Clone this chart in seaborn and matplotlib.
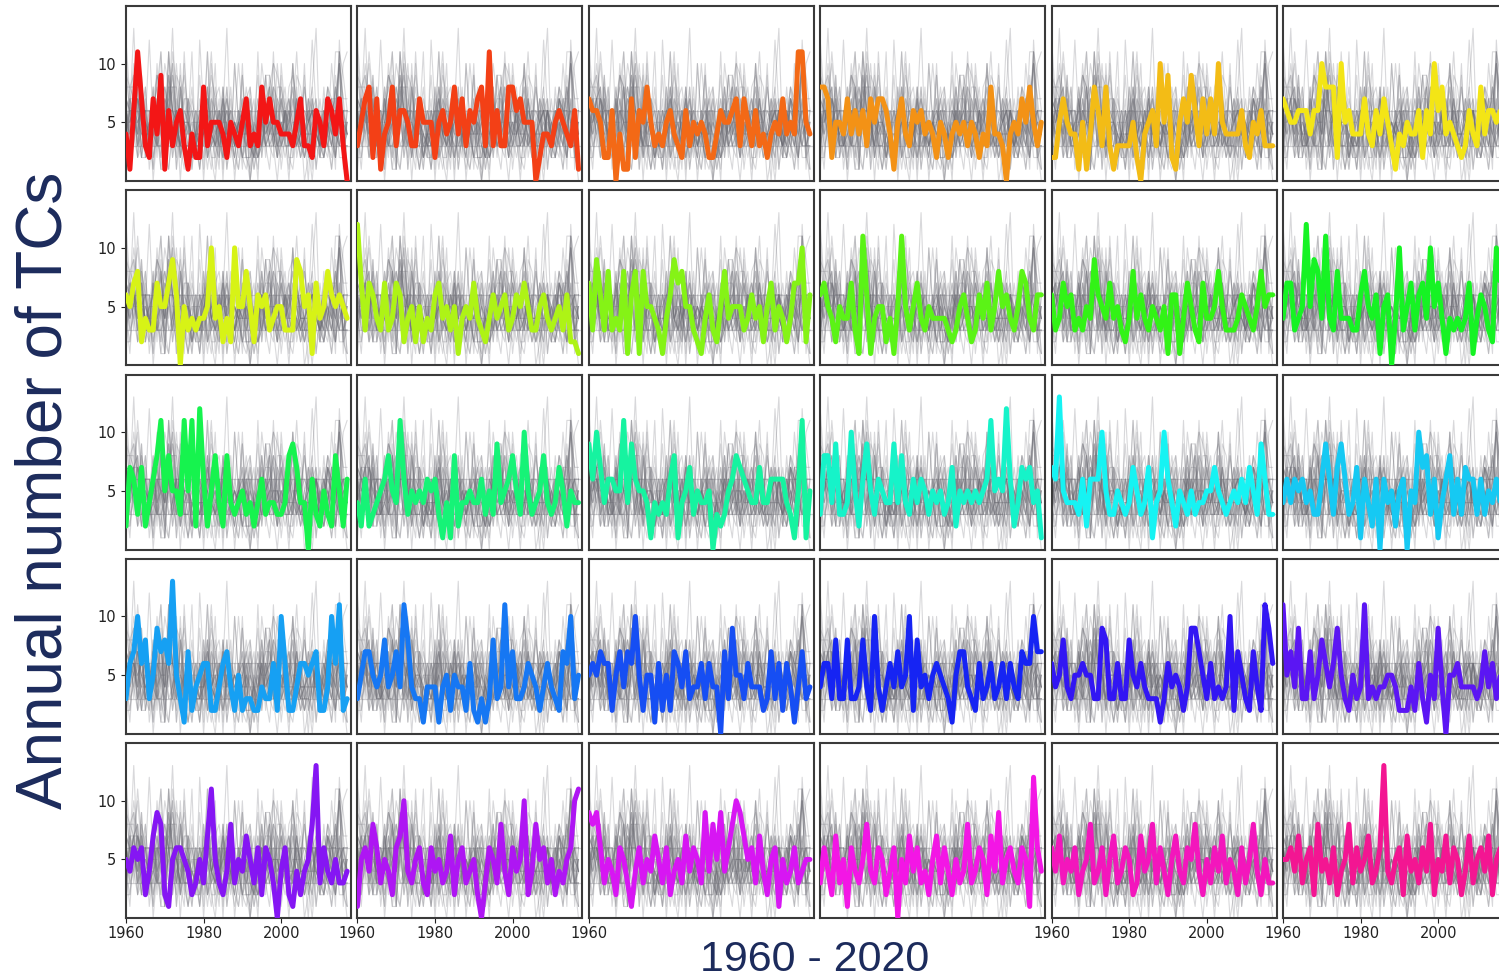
import numpy as np
import pandas as pd
import matplotlib
matplotlib.use("Agg")
import matplotlib.pyplot as plt
import seaborn as sns

# ---------------- data (annual number of TCs, 1960-2017) ----------------
years = list(range(1960, 2018))

tc_01 = [4,1,6,11,7,3,2,7,4,9,1,6,3,5,6,3,1,4,2,2,8,3,5,5,5,4,2,5,4,3,5,7,3,4,3,8,5,7,5,5,4,4,4,3,5,7,3,3,2,6,5,3,7,6,4,7,3,0]
tc_02 = [3,5,7,8,2,7,1,4,5,8,3,6,6,5,3,3,7,5,5,5,2,5,6,4,5,8,4,7,3,6,5,7,8,3,11,3,6,3,3,8,8,6,7,5,5,5,0,2,4,4,3,5,6,5,4,3,6,1]
tc_03 = [7,6,6,5,2,2,6,0,4,1,1,7,2,6,5,8,5,3,4,3,5,6,4,3,2,6,3,5,4,5,4,2,2,4,6,5,5,6,7,3,7,5,3,6,3,4,2,4,5,4,7,4,5,4,11,11,5,4]
tc_04 = [8,8,7,2,5,5,4,7,4,6,4,6,3,7,5,7,7,6,4,1,5,7,4,3,6,5,6,4,5,4,2,5,4,2,4,5,4,5,3,5,4,2,4,3,8,4,4,3,0,4,5,4,7,5,8,5,3,5]
tc_05 = [2,2,5,7,5,4,4,1,5,1,4,8,6,3,8,3,1,3,3,3,3,5,2,0,4,5,6,3,10,5,9,2,1,5,7,5,9,6,3,7,4,7,4,10,5,4,4,4,4,6,3,2,5,4,6,3,3,3]
tc_06 = [7,6,5,5,6,6,6,4,6,6,10,8,8,8,2,10,5,6,4,4,4,7,4,3,6,4,7,5,3,1,4,3,5,4,4,6,2,6,4,10,6,8,4,5,4,3,2,3,6,4,3,8,4,6,6,5,6,4]
tc_07 = [6,5,7,8,2,4,3,3,7,5,5,7,9,6,0,5,3,4,3,4,4,5,10,4,5,2,4,2,10,5,5,8,5,2,6,5,6,3,4,5,5,3,3,3,9,8,5,6,1,7,4,5,8,6,5,6,5,4]
tc_08 = [12,7,3,7,6,4,3,7,3,4,7,6,2,4,5,2,5,2,4,3,6,7,4,5,3,5,1,4,5,4,7,4,3,2,4,6,4,5,6,3,4,6,5,7,5,3,3,5,6,4,3,4,5,3,6,2,2,1]
tc_09 = [7,3,9,6,3,8,3,4,3,8,1,6,8,1,8,5,5,4,3,1,4,6,9,7,8,5,5,3,2,1,4,6,3,2,5,8,4,5,5,5,3,4,6,4,5,2,5,7,3,5,4,2,4,7,7,10,2,6]
tc_10 = [6,7,5,4,2,5,4,4,7,3,1,11,6,1,4,5,5,2,4,1,5,11,5,3,5,7,4,3,5,4,4,4,4,3,2,3,5,6,4,2,3,6,4,7,3,5,8,5,6,4,3,5,8,7,4,3,6,6]
tc_11 = [6,3,4,7,5,6,3,4,3,5,4,9,6,5,4,7,4,5,3,2,4,8,4,6,4,3,5,4,3,5,1,6,6,1,4,7,5,3,2,7,4,4,5,8,5,3,3,3,4,6,5,4,3,5,8,5,6,6]
tc_12 = [4,7,7,3,4,5,12,5,9,8,4,11,4,3,8,4,4,4,3,3,6,8,5,4,6,1,5,6,0,4,10,3,5,7,3,6,7,4,10,5,7,4,1,4,3,4,3,4,7,1,4,6,5,3,2,10,7,4]
tc_13 = [2,7,6,3,7,2,4,6,8,11,5,8,5,5,3,11,5,11,2,12,6,2,5,8,4,2,8,4,3,4,5,3,4,2,4,6,3,4,4,3,3,4,8,9,7,4,4,0,6,3,2,5,3,2,8,5,2,6]
tc_14 = [4,2,6,2,3,4,5,6,8,5,4,11,6,3,5,4,5,4,6,5,6,3,1,4,1,8,2,4,4,5,4,4,6,3,5,3,9,4,5,6,8,5,3,10,5,3,4,5,8,4,3,4,7,5,2,5,4,4]
tc_15 = [9,6,10,7,4,6,6,5,5,11,4,9,6,5,5,4,1,4,3,4,3,6,8,1,4,5,7,3,5,4,4,5,0,3,2,3,5,6,8,7,6,5,4,4,7,4,4,6,6,6,6,4,3,1,5,11,1,5]
tc_16 = [3,8,8,4,9,3,3,4,10,5,2,6,9,5,3,6,5,4,4,9,4,8,4,3,6,4,6,5,3,5,4,5,3,4,7,2,5,4,5,4,5,4,5,6,11,5,6,5,12,6,2,4,7,6,7,4,5,1]
tc_17 = [7,6,13,5,4,4,4,3,6,2,6,6,6,10,5,3,3,5,4,3,4,7,5,3,4,7,1,4,5,10,6,4,2,5,4,3,5,3,4,4,5,5,7,5,4,3,4,5,4,6,4,7,5,3,9,6,3,3]
tc_18 = [4,6,4,6,5,6,4,5,3,3,6,9,6,3,7,9,6,3,4,7,1,6,4,2,6,0,6,4,5,2,5,6,0,5,4,10,7,8,3,6,1,4,6,8,3,6,3,7,6,6,3,6,3,5,4,6,4,5]
tc_19 = [3,6,7,10,6,8,3,5,9,7,8,6,13,5,3,1,7,2,4,5,6,6,2,2,4,6,7,4,2,5,2,3,3,2,2,4,3,3,6,2,10,6,2,2,4,6,6,5,6,7,2,2,4,10,6,11,2,3]
tc_20 = [3,5,7,7,5,4,5,8,4,5,7,4,11,8,4,3,3,1,4,4,4,1,4,5,2,5,4,4,2,6,2,1,3,1,3,8,3,4,11,4,7,3,3,4,6,5,4,2,4,6,4,3,2,7,6,10,3,5]
tc_21 = [5,6,5,7,6,6,2,5,7,4,7,6,10,5,2,5,5,1,6,2,5,2,7,6,4,7,3,4,4,6,3,6,4,4,0,7,3,9,5,5,3,6,4,4,4,2,3,7,3,6,2,6,4,1,4,7,3,4]
tc_22 = [4,6,6,3,8,3,3,8,3,3,4,8,4,2,10,4,2,4,6,4,7,4,5,10,2,8,4,5,3,5,6,5,4,3,1,5,7,7,4,3,2,6,3,4,6,3,4,6,3,6,4,3,7,6,6,10,7,7]
tc_23 = [6,4,5,8,4,3,5,5,6,5,5,3,3,9,8,3,3,6,3,3,8,5,4,6,4,3,3,3,1,3,6,4,5,4,2,4,9,9,7,5,3,6,3,4,3,4,10,2,7,5,3,2,7,4,2,11,9,6]
tc_24 = [11,5,7,4,9,3,3,7,3,5,8,6,4,6,9,5,3,2,5,3,4,11,3,4,3,4,4,5,5,4,2,2,2,4,2,6,3,1,5,3,9,4,0,5,5,6,4,4,4,4,3,4,7,4,6,3,5,4]
tc_25 = [5,4,6,5,6,2,4,7,9,8,2,1,5,6,6,5,4,2,3,5,3,7,11,5,3,2,4,8,3,5,4,7,5,3,6,2,6,5,3,0,4,6,2,1,4,2,4,5,8,13,3,6,4,3,5,3,3,4]
tc_26 = [1,5,6,4,8,6,3,5,4,2,6,7,10,4,3,5,6,3,2,6,4,5,3,4,7,2,5,6,3,4,5,2,0,3,6,5,3,8,4,2,6,4,5,10,2,4,8,5,6,3,5,2,4,3,5,6,10,11]
tc_27 = [9,8,9,6,3,5,4,2,6,5,3,1,4,6,3,5,4,7,5,3,6,2,4,5,3,7,4,6,5,3,9,4,8,5,9,4,6,8,10,9,7,5,6,3,7,4,2,5,6,1,5,3,4,6,3,4,5,5]
tc_28 = [3,6,4,2,7,3,5,1,6,4,3,5,8,4,3,6,5,2,4,6,0,5,3,7,4,6,3,4,2,5,7,3,6,4,2,5,3,4,8,3,4,6,5,2,7,4,9,3,5,6,4,3,6,5,1,12,6,4]
tc_29 = [6,4,7,3,5,4,6,2,4,5,8,3,4,6,2,5,7,3,4,6,5,2,3,7,4,5,8,3,6,4,2,5,7,4,3,6,5,8,4,2,5,3,6,4,7,3,5,4,2,6,3,5,8,4,2,5,3,3]
tc_30 = [5,5,6,4,7,3,5,6,2,8,4,5,3,6,2,4,5,8,3,6,4,5,7,3,4,6,13,4,3,5,6,2,7,4,5,3,6,4,8,2,5,4,7,3,6,5,2,4,7,3,5,6,4,7,2,5,6,4]

series = [tc_01, tc_02, tc_03, tc_04, tc_05, tc_06, tc_07, tc_08, tc_09, tc_10,
          tc_11, tc_12, tc_13, tc_14, tc_15, tc_16, tc_17, tc_18, tc_19, tc_20,
          tc_21, tc_22, tc_23, tc_24, tc_25, tc_26, tc_27, tc_28, tc_29, tc_30]

bottom_xticks = [[1960, 1980, 2000], [1960, 1980, 2000], [1960], [],
                 [1960, 1980, 2000], [1960, 1980, 2000]]
ytick_vals = [5, 10]
ylabel_text = "Annual number of TCs"
xlabel_text = "1960 - 2020"

# ---------------- long table ----------------
frames = []
for k, vals in enumerate(series):
    n = min(len(vals), len(years))
    frames.append(pd.DataFrame({"year": years[:n], "count": vals[:n], "region": k}))
long_df = pd.concat(frames, ignore_index=True)

# ---------------- style ----------------
sns.set_style("white")
plt.rcParams["font.family"] = ["DejaVu Sans"]

W, H = 1499, 980
fig = plt.figure(figsize=(W / 100, H / 100), dpi=100)

palette = sns.hls_palette(32, h=0.0, l=0.52, s=0.9)[:30]
q_lo, q_hi = np.percentile(long_df["count"], [25, 75])

for k in range(30):
    r, c = divmod(k, 6)
    left = 126 + 231.4 * c
    top = 6 + 184.3 * r
    ax = fig.add_axes([left / W, 1 - (top + 175) / H, 225 / W, 175 / H])

    sns.lineplot(data=long_df, x="year", y="count", units="region", estimator=None,
                 color="#6c6c74", lw=0.8, alpha=0.26, ax=ax, legend=False)
    for q in (q_lo, q_hi):
        ax.axhline(q, color="#6c6c74", lw=0.9, alpha=0.3, zorder=1)
    sns.lineplot(data=long_df[long_df["region"] == k], x="year", y="count",
                 estimator=None, color=palette[k], lw=3.6, ax=ax, legend=False,
                 zorder=5, solid_joinstyle="round", solid_capstyle="round")

    ax.set_xlim(1960, 2018)
    ax.set_ylim(0, 14.9)
    ax.set_xlabel("")
    ax.set_ylabel("")
    for sp in ax.spines.values():
        sp.set_color("#3a3a3a")
        sp.set_linewidth(1.5)
        sp.set_visible(True)

    ax.set_yticks(ytick_vals)
    if c == 0:
        ax.set_yticklabels([str(v) for v in ytick_vals])
        ax.tick_params(axis="y", left=True, direction="out", length=3.5, width=0.8,
                       labelsize=10.5, colors="#222222")
    else:
        ax.tick_params(axis="y", left=False, labelleft=False)

    if r == 4:
        ax.set_xticks(bottom_xticks[c])
        ax.set_xticklabels([str(v) for v in bottom_xticks[c]])
        ax.tick_params(axis="x", bottom=True, direction="out", length=3.5, width=0.8,
                       labelsize=10.5, colors="#222222", pad=2)
    else:
        ax.set_xticks([])

navy = "#1c2b5c"
fig.text(45 / W, 0.5, ylabel_text, rotation=90, ha="center", va="center",
         fontsize=46, color=navy, family=["Liberation Sans", "DejaVu Sans"])
fig.text(815 / W, 1 - 960 / H, xlabel_text, ha="center", va="center",
         fontsize=31, color=navy, family=["Liberation Sans", "DejaVu Sans"])

fig.savefig("out.png", dpi=100)
